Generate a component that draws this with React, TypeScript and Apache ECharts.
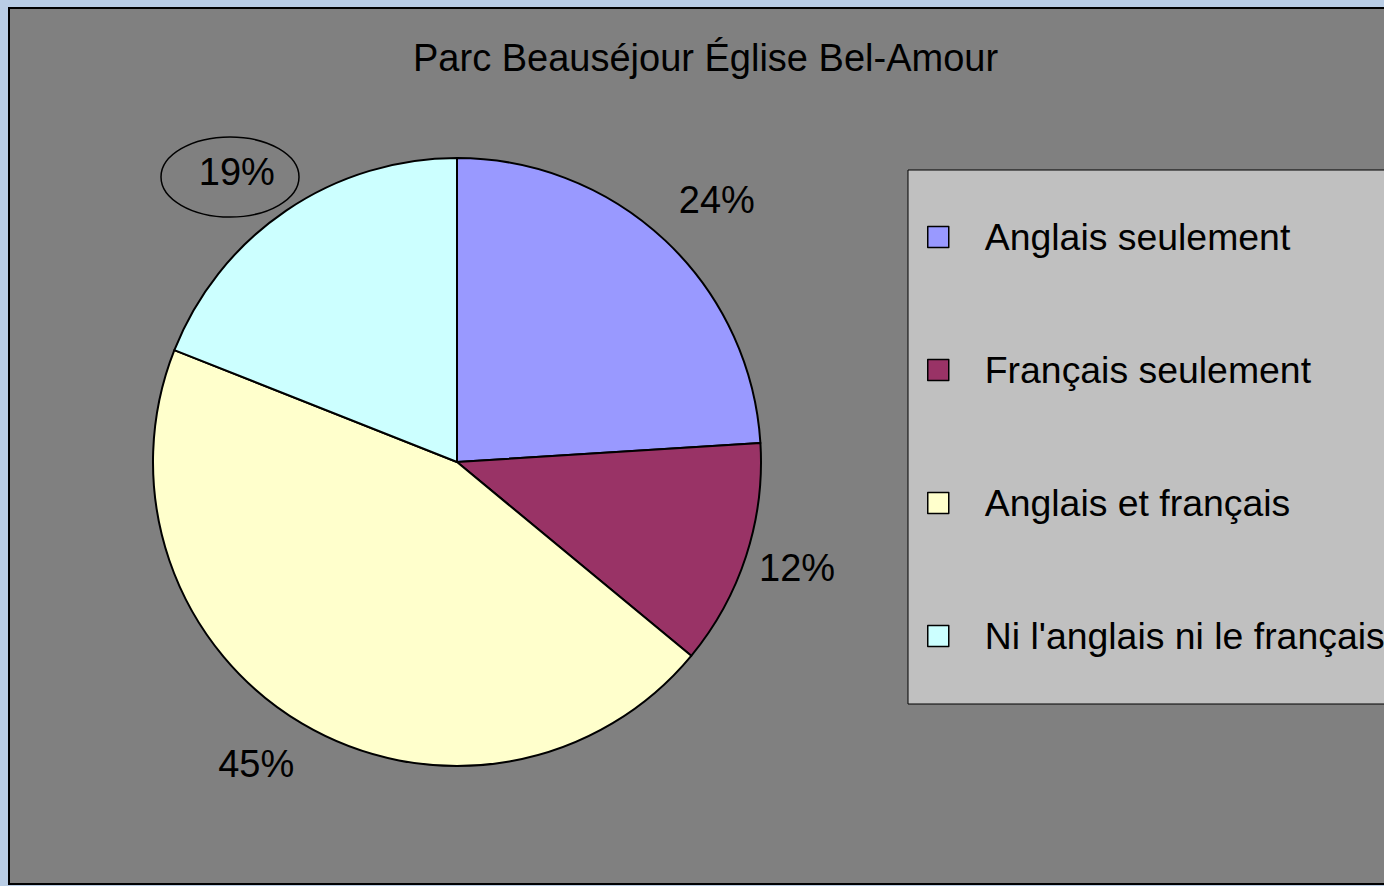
import React, { useEffect, useRef } from "react";
import * as echarts from "echarts";

const TITLE = "Parc Beauséjour Église Bel-Amour";
const categories = [
  "Anglais seulement",
  "Français seulement",
  "Anglais et français",
  "Ni l'anglais ni le français",
];
const values = [24, 12, 45, 19];
const colors = ["#9999ff", "#993366", "#ffffcc", "#ccffff"];
// small per-label nudges (style only)
const labelOffsets = [
  [10, 4],
  [-7, -7],
  [-15, -12],
  [-15, 12],
];

const FONT = "'Liberation Sans', Arial, sans-serif";

export default function App() {
  const ref = useRef<HTMLDivElement>(null);
  useEffect(() => {
    if (!ref.current) return;
    const chart = echarts.init(ref.current, null, { renderer: "svg" });
    const mainData = categories.map((name, i) => ({
      name,
      value: values[i],
      itemStyle: { color: colors[i] },
    }));
    const labelData = categories.map((name, i) => ({
      name,
      value: values[i],
      label: { offset: labelOffsets[i] },
    }));
    chart.setOption({
      animation: false,
      backgroundColor: "#b9cde5",
      title: {
        text: TITLE,
        left: 408,
        top: 34,
        textStyle: { fontFamily: FONT, fontSize: 38, fontWeight: "normal", color: "#000" },
      },
      legend: {
        orient: "vertical",
        left: 908,
        top: 170,
        padding: [47, 80, 48, 19],
        itemGap: 93,
        itemWidth: 21,
        itemHeight: 21,
        icon: "rect",
        backgroundColor: "#c0c0c0",
        borderColor: "#000",
        borderWidth: 1,
        data: categories,
        itemStyle: { borderColor: "#000", borderWidth: 1.5 },
        textStyle: {
          fontFamily: FONT,
          fontSize: 37.4,
          color: "#000",
          lineHeight: 40,
          padding: [0, 0, 0, 31],
        },
      },
      graphic: [
        {
          type: "rect",
          z: -10,
          shape: { x: 9, y: 8, width: 1400, height: 876 },
          style: { fill: "#808080", stroke: "#000", lineWidth: 2 },
        },
        {
          type: "ellipse",
          z: 10,
          shape: { cx: 230, cy: 177, rx: 69, ry: 40 },
          style: { fill: "none", stroke: "#000", lineWidth: 1.5 },
        },
      ],
      series: [
        {
          type: "pie",
          name: "main",
          center: [457, 462],
          radius: 304,
          startAngle: 90,
          clockwise: true,
          silent: true,
          label: { show: false },
          labelLine: { show: false },
          itemStyle: { borderColor: "#000", borderWidth: 2 },
          data: mainData,
        },
        {
          type: "pie",
          name: "labels",
          center: [457, 462],
          radius: [344, 380],
          startAngle: 90,
          clockwise: true,
          silent: true,
          itemStyle: { color: "rgba(0,0,0,0)", borderWidth: 0 },
          label: {
            show: true,
            position: "inside",
            formatter: (p: any) => p.value + "%",
            fontFamily: FONT,
            fontSize: 38,
            color: "#000",
          },
          labelLine: { show: false },
          data: labelData,
        },
      ],
    });
    return () => chart.dispose();
  }, []);
  return (
    <div
      ref={ref}
      style={{ position: "fixed", left: 0, top: 0, width: 1384, height: 886 }}
    />
  );
}
